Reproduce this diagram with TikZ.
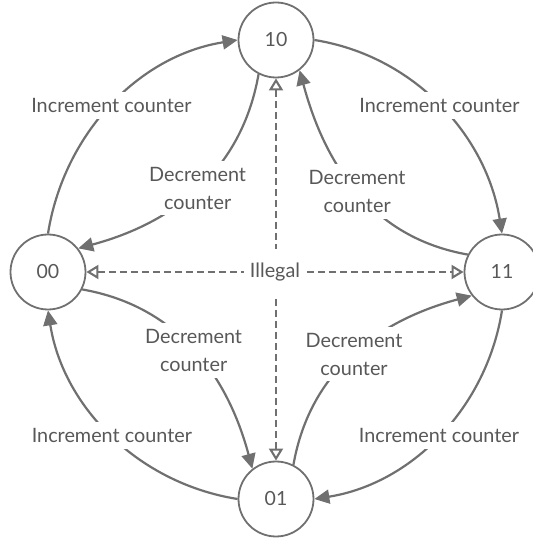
\documentclass[tikz,border=0pt]{standalone}
\usepackage{fontspec}
\setmainfont{Lato}
\usetikzlibrary{arrows.meta}

\definecolor{linegray}{RGB}{112,112,112}
\definecolor{textgray}{RGB}{88,88,88}

\tikzset{
  state/.style={circle, draw=linegray, line width=1.8pt, minimum size=75pt, inner sep=0pt, text=textgray, font=\fontsize{19.5}{23}\selectfont},
  trans/.style={draw=linegray, line width=2.2pt, -{Triangle[length=15pt,width=14pt]}},
  illegal/.style={draw=linegray, line width=2.1pt, dash pattern=on 7pt off 4pt, {Triangle[open,length=12pt,width=14pt]}-{Triangle[open,length=12pt,width=14pt]}},
  lbl/.style={fill=white, text=textgray, inner xsep=3pt, inner ysep=6pt, font=\fontsize{19.8}{28}\selectfont, align=center}
}

\begin{document}
\begin{tikzpicture}[x=1pt,y=1pt]
\useasboundingbox (0,0) rectangle (533,539);

%States
\node[state] (n10) at (276,499) {10};
\node[state] (n00) at (48,267) {00};
\node[state] (n11) at (502,267) {11};
\node[state] (n01) at (276,40) {01};

%Illegal
\draw[illegal] (n10) -- (n01);
\draw[illegal] (n00) -- node[lbl, inner xsep=6pt, inner ysep=14pt] (ill) {Illegal} (n11);

%Increment
\draw[trans] (n00.90) to[out=81,in=-171,looseness=0.95] node[lbl] (inc1) {Increment counter} (n10.180);
\draw[trans] (n10.0) to[out=-9,in=99,looseness=0.95] node[lbl] (inc2) {Increment counter} (n11.90);
\draw[trans] (n11.-90) to[out=-99,in=9,looseness=0.95] node[lbl] (inc3) {Increment counter} (n01.0);
\draw[trans] (n01.180) to[out=171,in=-81,looseness=0.95] node[lbl] (inc4) {Increment counter} (n00.-90);

%Decrement
\draw[trans] (n10.-117) to[out=-100,in=15] node[lbl] (dec1) {Decrement\\counter} (n00.38);
\draw[trans] (n11.153) to[out=170,in=-75] node[lbl] (dec2) {Decrement\\counter} (n10.-52);
\draw[trans] (n00.-27) to[out=-10,in=105] node[lbl] (dec3) {Decrement\\counter} (n01.128);
\draw[trans] (n01.63) to[out=80,in=-165] node[lbl] (dec4) {Decrement\\counter} (n11.-142);
\end{tikzpicture}
\end{document}
